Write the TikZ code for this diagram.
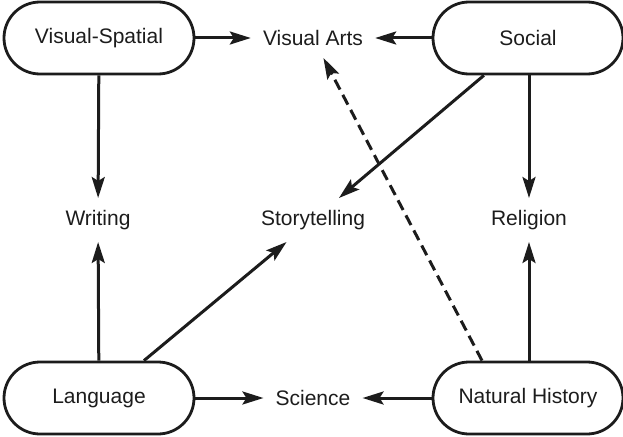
\documentclass[tikz,border=0pt]{standalone}
\usepackage{fontspec}
\setmainfont{Liberation Sans}
\usetikzlibrary{arrows.meta}
\definecolor{ink}{HTML}{1c1c1c}
\tikzset{
  areabox/.style={draw=ink, line width=2.8pt, rounded corners=36pt,
    minimum width=190pt, minimum height=72pt, inner sep=0pt,
    font=\fontsize{21}{24}\selectfont, text=ink},
  fieldtext/.style={inner sep=12pt, font=\fontsize{21}{24}\selectfont, text=ink},
  link/.style={draw=ink, line width=3pt,
    -{Stealth[length=21pt,width=13pt,inset=4pt]}},
  hint/.style={link, dash pattern=on 11pt off 6pt}
}
\begin{document}
\begin{tikzpicture}[x=1pt,y=-1pt]
\useasboundingbox (0,0) rectangle (623,436);
% four source areas
\node[areabox] (vs) at (99,38)  {Visual-Spatial};
\node[areabox] (so) at (528,38) {Social};
\node[areabox] (la) at (99,398) {Language};
\node[areabox] (nh) at (528,398) {Natural History};
% derived activities
\node[fieldtext] (va) at (313,38)  {Visual Arts};
\node[fieldtext] (wr) at (98,220)  {Writing};
\node[fieldtext] (st) at (313,220) {Storytelling};
\node[fieldtext] (re) at (529,220) {Religion};
\node[fieldtext] (sc) at (313,398) {Science};
% influences
\draw[link] (vs) -- (va);
\draw[link] (so) -- (va);
\draw[link] (vs) -- (wr);
\draw[link] (so) -- (st);
\draw[link] (so.south -| re) -- (re);
\draw[link] (la) -- (wr);
\draw[link] (la) -- (st);
\draw[link] (nh.north -| re) -- (re);
\draw[link] (la) -- (sc);
\draw[link] (nh) -- (sc);
\coordinate (d0) at ([xshift=-46pt]nh.north);
\draw[hint] (d0) -- (va);
\end{tikzpicture}
\end{document}
